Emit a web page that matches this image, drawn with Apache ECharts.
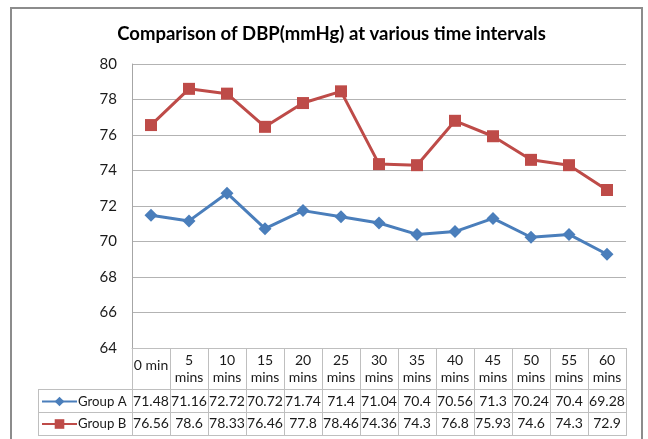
<!DOCTYPE html>
<html>
<head>
<meta charset="utf-8">
<script src="https://cdn.jsdelivr.net/npm/echarts@6/dist/echarts.min.js"></script>
<style>
html,body{margin:0;padding:0;background:#fff;}
#chart{width:648px;height:439px;}
</style>
</head>
<body>
<div id="chart"></div>
<script>
const categories = ['0 min','5 mins','10 mins','15 mins','20 mins','25 mins','30 mins','35 mins','40 mins','45 mins','50 mins','55 mins','60 mins'];
const groupA = [71.48, 71.16, 72.72, 70.72, 71.74, 71.4, 71.04, 70.4, 70.56, 71.3, 70.24, 70.4, 69.28];
const groupB = [76.56, 78.6, 78.33, 76.46, 77.8, 78.46, 74.36, 74.3, 76.8, 75.93, 74.6, 74.3, 72.9];
const seriesNames = ['Group A', 'Group B'];
const yMin = 64, yMax = 80, yStep = 2;

const FONT = 'Lato';
const FS = 14;
const TXT = '#1a1a1a';
const colorA = '#4a7ebb';
const colorB = '#be4b48';
const tableLine = '#bfbfbf';

const chart = echarts.init(document.getElementById('chart'));

function valueAxis(data, offset, margin) {
  return {
    type: 'category',
    data: data.map(String),
    position: 'bottom',
    offset: offset,
    boundaryGap: true,
    axisLine: {show: false},
    axisTick: {show: false},
    splitLine: {show: false},
    axisLabel: {interval: 0, margin: margin, fontFamily: FONT, fontSize: FS, color: TXT, lineHeight: 17, hideOverlap: false}
  };
}

function legendRow(name, top) {
  return {
    data: [name],
    orient: 'horizontal',
    left: 36, top: top, padding: 5,
    itemWidth: 35, itemHeight: 12,
    textStyle: {fontFamily: FONT, fontSize: 13.2, color: TXT, padding: [0, 0, 0, -4]}
  };
}

chart.setOption({
  animation: false,
  title: {
    text: 'Comparison of DBP(mmHg) at various time intervals',
    left: 326.5, top: 20, textAlign: 'center',
    textStyle: {fontFamily: FONT, fontWeight: 'bold', fontSize: 18.5, color: '#000'}
  },
  legend: [legendRow(seriesNames[0], 390), legendRow(seriesNames[1], 412.5)],
  grid: {left: 132, right: 22, top: 64, bottom: 91, containLabel: false},
  xAxis: [
    {
      type: 'category',
      data: categories,
      boundaryGap: true,
      axisLine: {show: true, lineStyle: {color: tableLine, width: 1}},
      axisTick: {show: true, length: 88, interval: 0, lineStyle: {color: tableLine, width: 1}},
      splitLine: {show: false},
      axisLabel: {
        interval: 0, margin: 4, fontFamily: FONT, fontSize: FS, color: TXT, lineHeight: 17, hideOverlap: false,
        formatter: v => v.indexOf('mins') >= 0 ? v.replace(' ', '\n') : '{one|' + v + '}',
        rich: {one: {fontFamily: FONT, fontSize: FS, color: TXT, lineHeight: 17, padding: [9, 0, 0, 0]}}
      }
    },
    valueAxis(groupA, 42, 2.5),
    valueAxis(groupB, 64, 3)
  ],
  yAxis: {
    type: 'value', min: yMin, max: yMax, interval: yStep,
    axisLine: {show: true, lineStyle: {color: '#a6a6a6', width: 1}},
    axisTick: {show: false},
    splitLine: {lineStyle: {color: '#b3b3b3', width: 1}},
    axisLabel: {fontFamily: FONT, fontSize: 15, color: TXT, margin: 15}
  },
  series: [
    {
      name: seriesNames[0], type: 'line', data: groupA, xAxisIndex: 0,
      symbol: 'diamond', symbolSize: 13,
      lineStyle: {color: colorA, width: 3},
      itemStyle: {color: colorA}
    },
    {
      name: seriesNames[1], type: 'line', data: groupB, xAxisIndex: 0,
      symbol: 'rect', symbolSize: 12,
      lineStyle: {color: colorB, width: 3},
      itemStyle: {color: colorB}
    }
  ],
  graphic: [
    {type: 'rect', silent: true, shape: {x: 11, y: 8, width: 631, height: 460}, style: {fill: null, stroke: '#8c8c8c', lineWidth: 2}},
    {type: 'line', silent: true, shape: {x1: 38, y1: 389.5, x2: 626, y2: 389.5}, style: {stroke: tableLine, lineWidth: 1}},
    {type: 'line', silent: true, shape: {x1: 38, y1: 412.5, x2: 626, y2: 412.5}, style: {stroke: tableLine, lineWidth: 1}},
    {type: 'line', silent: true, shape: {x1: 38, y1: 435.5, x2: 626, y2: 435.5}, style: {stroke: tableLine, lineWidth: 1}},
    {type: 'line', silent: true, shape: {x1: 38.5, y1: 389, x2: 38.5, y2: 436}, style: {stroke: tableLine, lineWidth: 1}}
  ]
});
</script>
</body>
</html>
